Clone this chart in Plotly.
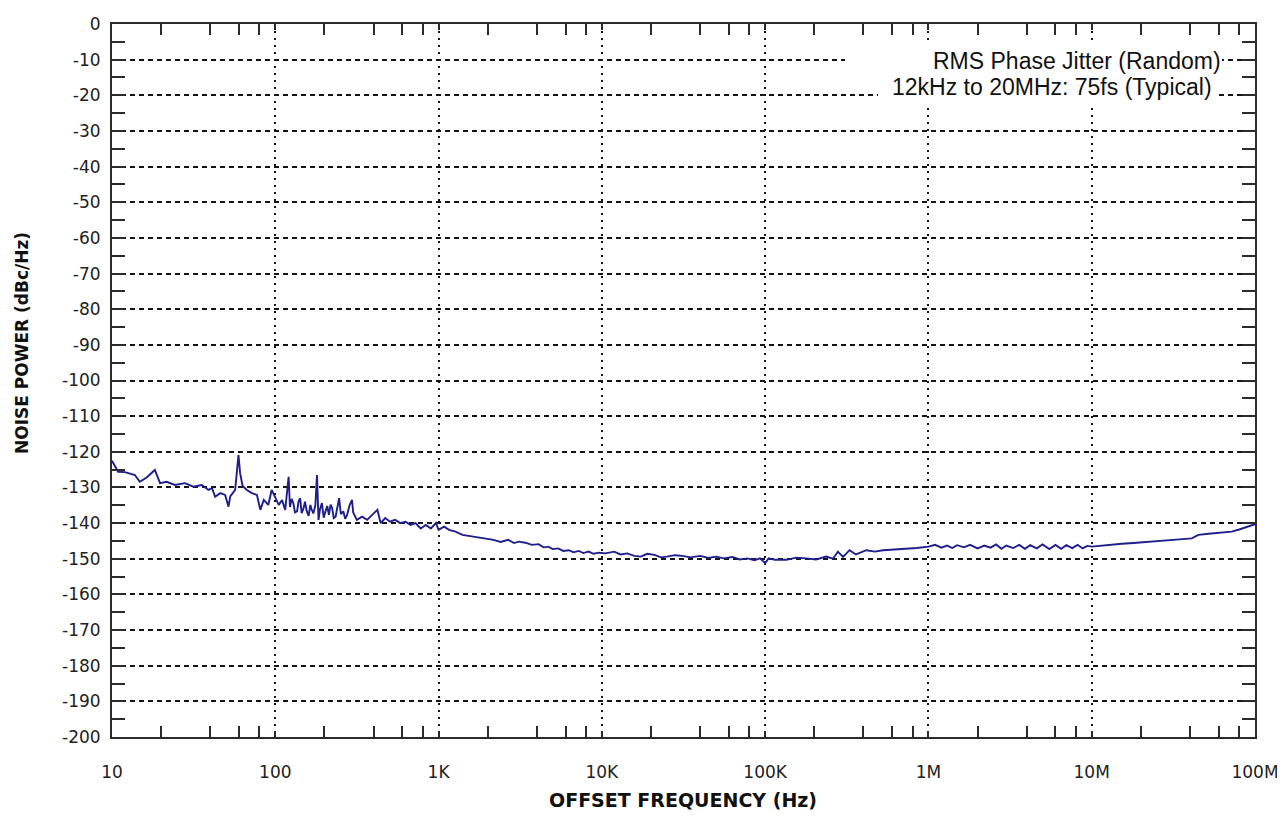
import plotly.graph_objects as go

# ---- data ----
freq_hz = [
    10, 10.2, 10.9, 12.0, 13.8, 14.8, 16.3, 18.3, 19.7, 21.6, 24.3, 28.0, 31.5, 35.5, 39.0, 41.0,
    42.8, 46.0, 49.3, 51.7, 53.0, 56.8, 59.5, 60.9, 63.0, 66.9, 71.9, 77.2, 81.0, 85.0, 90.6, 95.0,
    100, 105, 110, 115, 120.7, 123, 126, 129, 132, 136, 139, 142, 145, 149, 152, 156, 160, 164, 167,
    171, 176, 180, 184, 188, 193, 198, 203, 208, 213, 218, 223, 228, 234, 240, 246, 252, 261, 268,
    275, 285, 295, 300, 316, 340, 365, 392, 422, 442, 471, 504, 542, 583, 627, 673, 723, 777, 835,
    897, 964, 1000,
    1080, 1160, 1270, 1400, 1530, 1760, 1950, 2170, 2400, 2670, 2900, 3100, 3400, 3730, 4100, 4400,
    4700, 5000, 5400, 5800, 6280, 6700, 7220, 7700, 8300, 8900, 9600, 10500,
    11900, 13000, 14300, 15800, 17300, 19000, 21000, 23000, 25000, 28000, 31000, 35000, 40000,
    45000, 50000, 56000, 63000, 70000, 78000, 86000, 93000, 100000, 105000,
    115000, 134600, 155000, 178600, 205000, 236600, 260000, 279000, 300000, 328700, 360000,
    416500, 470000, 527000, 620000, 732000, 850000,
    1.0e6, 1.1e6, 1.2e6, 1.3e6, 1.4e6, 1.5e6, 1.65e6, 1.8e6, 2.0e6, 2.2e6, 2.4e6, 2.6e6, 2.8e6,
    3.0e6, 3.3e6, 3.6e6, 3.9e6, 4.2e6, 4.6e6, 5.0e6, 5.5e6, 6.0e6, 6.5e6, 7.0e6, 7.6e6, 8.2e6,
    8.8e6, 9.4e6, 1.0e7,
    1.15e7, 1.3e7, 1.53e7, 1.8e7, 2.23e7, 2.6e7, 3.1e7, 3.6e7, 4.1e7, 4.5e7, 5.2e7, 6.0e7, 7.2e7,
    8.0e7, 9.0e7, 1.0e8,
]
noise_dbc = [
    -122.5, -123.2, -125.6, -125.7, -126.5, -128.4, -127.2, -125.1, -128.8, -128.4, -129.3, -128.8,
    -129.8, -129.3, -130.7, -130.2,
    -132.6, -131.6, -132.1, -135.4, -132.5, -130.7, -120.9, -126.0, -129.5, -130.7, -131.6, -132.1,
    -136.3, -133.5, -134.9, -130.7,
    -133.0, -134.9, -133.5, -136.3, -127.0, -135.5, -133.2, -134.4, -137.0, -136.7, -133.8, -133.0,
    -137.2, -135.8, -134.0, -136.7, -138.0, -134.9, -136.2,
    -137.3, -135.0, -126.5, -139.1, -136.0, -134.4, -138.5, -136.7, -135.2, -137.7, -134.8, -135.8,
    -138.6, -138.2, -135.5, -133.0, -137.5, -136.7, -138.8,
    -137.8, -135.0, -133.5, -137.0, -139.1, -138.2, -139.1, -137.7, -136.3, -140.0, -138.6, -139.6,
    -139.1, -140.0, -139.6, -140.5, -140.0, -141.5, -140.5,
    -141.5, -140.0, -141.9,
    -141.0, -141.9, -142.4, -143.3, -143.6, -144.0, -144.5, -144.7, -145.3, -144.7, -145.6, -145.2,
    -145.5, -146.1, -145.9, -146.8,
    -146.6, -147.3, -147.1, -147.8, -147.6, -148.2, -147.8, -148.4, -148.0, -148.6, -148.3, -148.5,
    -148.0, -148.8, -148.5, -149.2, -149.4, -148.6, -148.9, -149.6, -149.4, -149.0, -149.2, -149.6,
    -149.2,
    -149.8, -149.4, -149.9, -149.5, -150.2, -149.9, -150.4, -149.9, -151.2, -149.9,
    -150.3, -150.3, -149.7, -149.9, -150.2, -149.4, -150.0, -148.0, -149.5, -147.6, -148.8,
    -147.6, -148.0, -147.6, -147.4, -147.1, -147.0,
    -146.6, -146.1, -146.9, -146.3, -147.0, -146.2, -146.8, -146.1, -147.1, -146.3, -146.9, -146.0,
    -147.2, -146.3, -147.0, -146.1, -147.2, -146.2, -147.1, -146.0, -147.3, -146.1, -147.2, -146.2,
    -147.0, -146.1, -147.1, -146.4, -146.6,
    -146.3, -146.2, -145.8, -145.6, -145.2, -145.0, -144.7, -144.5, -144.3, -143.3, -143.0, -142.8,
    -142.4,
    -141.8, -141.0, -140.3,
]

x_tick_vals = [10, 100, 1e3, 1e4, 1e5, 1e6, 1e7, 1e8]
x_tick_text = ["10", "100", "1K", "10K", "100K", "1M", "10M", "100M"]
x_minor_vals = [m * d for d in [10, 100, 1e3, 1e4, 1e5, 1e6, 1e7] for m in (2, 4, 6, 8)]
y_tick_vals = list(range(-200, 1, 10))
y_tick_text = [str(v) for v in y_tick_vals]  # plain hyphen minus like the reference

AXIS = "#2b2b2b"
GRID = "#151515"

# page body has an 8px margin: plot area spans x 112..1255, y 24..737 in the window
PL, PT, PW, PH = 104, 16, 1143, 713


def px(xw):
    return (xw - 8 - PL) / PW


def py(yw):
    return (PT + PH - (yw - 8)) / PH


fig = go.Figure()
fig.add_trace(go.Scatter(
    x=freq_hz, y=noise_dbc, mode="lines",
    line=dict(color="#1e1e8c", width=1.9),
    showlegend=False, hoverinfo="skip",
))

fig.update_layout(
    width=1277, height=824,
    margin=dict(l=PL, r=1277 - PL - PW, t=PT, b=824 - PT - PH, autoexpand=False),
    paper_bgcolor="white", plot_bgcolor="white",
    font=dict(family="DejaVu Sans", color="#222222", size=16),
    showlegend=False,
)

fig.update_xaxes(
    type="log", range=[1, 8], automargin=False,
    tickmode="array", tickvals=x_tick_vals, ticktext=x_tick_text,
    ticks="inside", ticklen=6, tickwidth=1.5, tickcolor=AXIS,
    tickfont=dict(family="DejaVu Sans", size=17, color="#222222"),
    ticklabelstandoff=19,
    showgrid=True, gridcolor=GRID, gridwidth=1.6, griddash="2px,5px",
    showline=True, linecolor=AXIS, linewidth=2, mirror="ticks",
    minor=dict(tickmode="array", tickvals=x_minor_vals, ticks="inside", ticklen=11,
               tickwidth=1.5, tickcolor=AXIS, showgrid=False),
    zeroline=False,
)
fig.update_yaxes(
    range=[-200, 0], automargin=False,
    tickmode="array", tickvals=y_tick_vals, ticktext=y_tick_text,
    ticks="inside", ticklen=13, tickwidth=1.5, tickcolor=AXIS,
    tickfont=dict(family="DejaVu Sans", size=17, color="#222222"),
    ticklabelstandoff=6,
    showgrid=True, gridcolor=GRID, gridwidth=1.6, griddash="5px,4px",
    showline=True, linecolor=AXIS, linewidth=2, mirror="ticks",
    minor=dict(dtick=5, tick0=0, ticks="inside", ticklen=13, tickwidth=1.5,
               tickcolor=AXIS, showgrid=False),
    zeroline=False,
)

# white backgrounds behind the two lines of the jitter note
fig.add_shape(type="rect", xref="paper", yref="paper",
              x0=px(845), x1=px(1222), y0=py(75), y1=py(40),
              fillcolor="white", line=dict(width=0), layer="above")
fig.add_shape(type="rect", xref="paper", yref="paper",
              x0=px(878), x1=px(1215), y0=py(108), y1=py(75),
              fillcolor="white", line=dict(width=0), layer="above")

fig.add_annotation(text="RMS Phase Jitter (Random)", xref="paper", yref="paper",
                   x=px(1222), y=py(61), xanchor="right", yanchor="middle",
                   showarrow=False, borderpad=0,
                   font=dict(family="Liberation Sans", size=23, color="#111111"))
fig.add_annotation(text="12kHz to 20MHz: 75fs (Typical)", xref="paper", yref="paper",
                   x=px(1213), y=py(87), xanchor="right", yanchor="middle",
                   showarrow=False, borderpad=0,
                   font=dict(family="Liberation Sans", size=23, color="#111111"))

fig.add_annotation(text="<b>NOISE POWER (dBc/Hz)</b>", xref="paper", yref="paper",
                   x=px(22), y=py(343), xanchor="center", yanchor="middle",
                   textangle=-90, showarrow=False,
                   font=dict(family="DejaVu Sans", size=17, color="#111111"))
fig.add_annotation(text="<b>OFFSET FREQUENCY (Hz)</b>", xref="paper", yref="paper",
                   x=px(683), y=py(800), xanchor="center", yanchor="middle",
                   showarrow=False,
                   font=dict(family="DejaVu Sans", size=19, color="#111111"))

fig.write_html("out.html")
